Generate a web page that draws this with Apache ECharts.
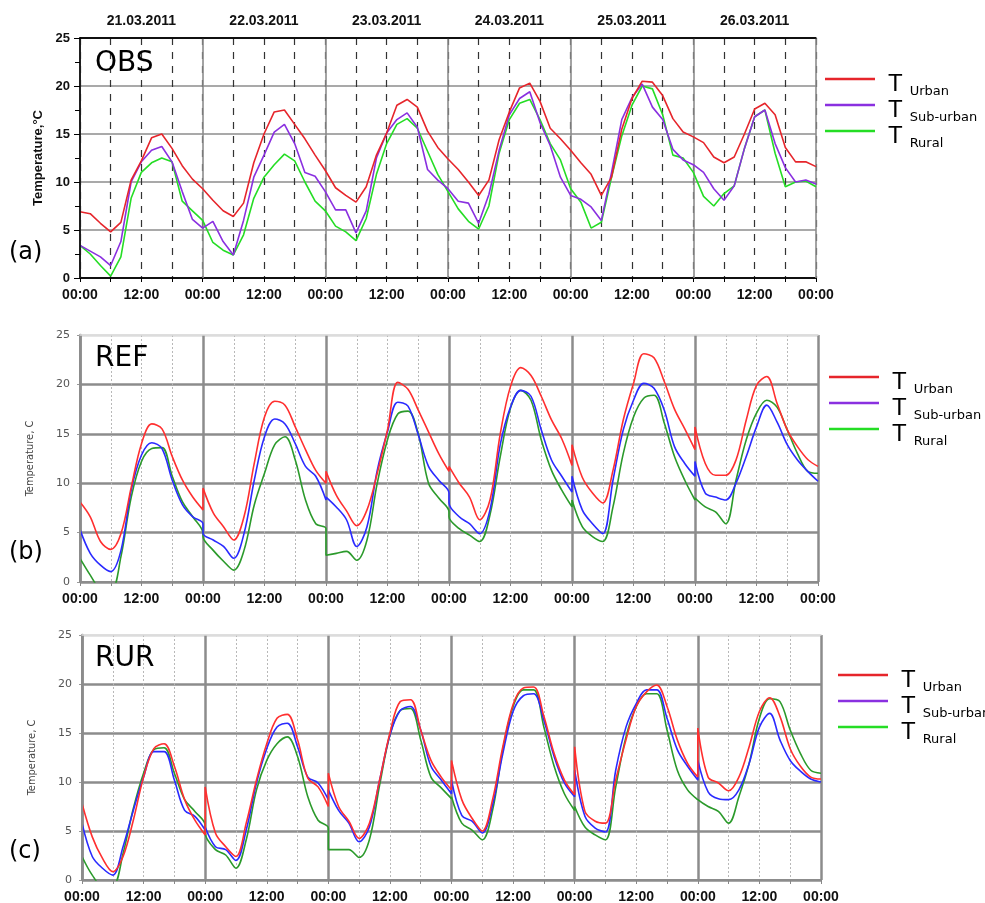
<!DOCTYPE html>
<html>
<head>
<meta charset="utf-8">
<script src="https://cdn.jsdelivr.net/npm/echarts@6/dist/echarts.min.js"></script>
<style>
html,body{margin:0;padding:0;background:#fff}
#chart{width:985px;height:903px}
</style>
</head>
<body>
<div id="chart"></div>
<script>
// ---- labels ----
const dayDates = ['21.03.2011', '22.03.2011', '23.03.2011', '24.03.2011', '25.03.2011', '26.03.2011'];
const clockLabels = { 0: '00:00', 12: '12:00' };
const seriesNames = ['Urban', 'Sub-urban', 'Rural'];
const panelNames = ['OBS', 'REF', 'RUR'];
const panelTags = ['(a)', '(b)', '(c)'];
const STEP = 2; // sampling step of every series, hours

// ---- (a) observations, continuous, 2-hourly from 21.03 00:00 to 27.03 00:00 ----
const obsUrban = [
  6.9, 6.7, 5.7, 4.8, 5.8, 10.2, 12.2, 14.6, 15.0, 13.5, 11.7, 10.3, 9.3,
  8.1, 7.0, 6.4, 7.8, 12.0, 15.0, 17.3, 17.5, 16.0, 14.5, 12.8, 11.2,
  9.4, 8.6, 7.9, 9.5, 12.8, 15.1, 18.0, 18.6, 17.8, 15.3, 13.6, 12.4,
  11.3, 10.0, 8.6, 10.2, 14.4, 17.3, 19.8, 20.3, 18.4, 15.6, 14.5, 13.3,
  12.0, 10.8, 8.6, 10.5, 15.5, 18.7, 20.5, 20.4, 19.0, 16.6, 15.2, 14.7,
  14.1, 12.6, 12.0, 12.6, 15.0, 17.6, 18.2, 17.0, 13.6, 12.1, 12.1, 11.6
];
const obsSuburban = [
  3.4, 2.8, 2.2, 1.3, 3.8, 10.0, 12.1, 13.3, 13.7, 12.1, 9.0, 6.1, 5.2,
  5.9, 3.8, 2.4, 6.0, 10.5, 12.8, 15.2, 16.0, 14.0, 11.0, 10.6, 9.0,
  7.1, 7.1, 4.7, 7.0, 12.5, 15.1, 16.5, 17.2, 15.7, 11.3, 10.2, 9.3,
  8.0, 7.8, 5.7, 8.7, 13.3, 17.0, 18.7, 19.4, 16.2, 13.8, 10.5, 8.6,
  8.2, 7.4, 6.0, 11.0, 16.5, 18.8, 20.2, 17.8, 16.5, 13.4, 12.3, 11.8,
  11.0, 9.3, 8.1, 9.6, 13.5, 16.8, 17.5, 14.0, 11.5, 10.0, 10.2, 9.8
];
const obsRural = [
  3.4, 2.5, 1.3, 0.2, 2.2, 8.3, 11.0, 12.0, 12.5, 12.1, 8.0, 7.0, 6.0,
  3.7, 2.9, 2.4, 4.5, 8.3, 10.5, 11.8, 12.9, 12.2, 10.0, 8.0, 7.0,
  5.4, 4.8, 3.9, 6.2, 10.8, 14.0, 16.0, 16.6, 15.6, 13.2, 10.8, 9.0,
  7.2, 5.9, 5.1, 7.5, 13.0, 16.5, 18.2, 18.6, 16.5, 14.0, 12.3, 9.3,
  7.9, 5.2, 5.8, 10.5, 14.8, 18.0, 20.0, 19.7, 17.0, 12.8, 12.5, 11.0,
  8.5, 7.5, 8.8, 9.6, 13.5, 16.8, 17.5, 13.0, 9.5, 10.0, 10.1, 9.5
];

// ---- (b) REF run, one 24 h forecast per day, 2-hourly 00:00..24:00 ----
const refUrban = [
  [8.1, 6.6, 4.1, 3.3, 4.9, 9.6, 14.0, 16.0, 15.5, 12.7, 10.3, 8.6, 7.3],
  [9.5, 7.0, 5.6, 4.25, 6.6, 12.0, 16.7, 18.3, 17.9, 15.7, 13.4, 11.3, 10.0],
  [11.2, 8.8, 7.2, 5.7, 7.3, 11.0, 15.4, 20.2, 19.5, 17.4, 15.2, 13.0, 11.2],
  [11.7, 10.0, 8.6, 6.3, 8.3, 15.0, 19.8, 21.7, 20.9, 18.8, 16.4, 14.5, 11.8],
  [13.9, 10.6, 9.0, 8.0, 11.3, 16.4, 20.1, 23.1, 22.7, 20.3, 17.5, 15.5, 13.4],
  [15.7, 12.0, 10.8, 10.8, 12.35, 16.4, 19.9, 20.8, 18.1, 15.4, 13.7, 12.4, 11.7]
];
const refSuburban = [
  [5.3, 2.9, 1.7, 1.05, 3.2, 9.3, 12.85, 14.1, 13.5, 10.3, 7.8, 6.6, 5.9],
  [4.9, 4.25, 3.6, 2.4, 4.9, 10.3, 14.7, 16.5, 16.0, 14.0, 11.7, 10.7, 8.3],
  [8.6, 7.6, 6.3, 3.6, 5.6, 11.3, 15.2, 18.2, 17.8, 14.9, 11.7, 10.3, 9.0],
  [8.0, 6.6, 5.9, 4.9, 7.3, 13.9, 17.7, 19.4, 18.8, 15.4, 12.35, 10.7, 9.1],
  [10.7, 7.3, 5.9, 4.9, 10.3, 15.4, 18.4, 20.1, 19.6, 17.4, 13.7, 12.0, 10.7],
  [12.2, 9.0, 8.6, 8.3, 10.0, 12.7, 15.7, 17.9, 16.2, 13.9, 12.35, 11.2, 10.2]
];
const refRural = [
  [2.4, 0.7, -0.8, -1.0, 2.6, 8.6, 12.2, 13.5, 13.6, 10.7, 8.1, 6.6, 4.9],
  [4.6, 3.2, 2.1, 1.2, 3.2, 7.8, 11.0, 13.9, 14.7, 12.35, 8.3, 5.9, 5.4],
  [2.7, 2.9, 3.1, 2.2, 4.25, 10.0, 14.4, 17.0, 17.3, 15.0, 10.0, 8.5, 7.1],
  [6.6, 5.4, 4.75, 4.1, 6.8, 12.7, 17.6, 19.4, 18.4, 14.4, 11.3, 9.3, 7.6],
  [8.3, 5.6, 4.6, 4.1, 7.6, 13.0, 16.7, 18.6, 18.9, 16.1, 12.7, 10.3, 8.3],
  [8.5, 7.6, 7.1, 5.9, 10.3, 14.4, 17.1, 18.4, 17.7, 15.4, 13.0, 11.2, 11.0]
];

// ---- (c) RUR run, one 24 h forecast per day, 2-hourly 00:00..24:00 ----
const rurUrban = [
  [7.8, 4.4, 2.2, 0.85, 2.4, 6.1, 10.5, 13.4, 13.9, 11.6, 8.2, 6.1, 4.6],
  [9.5, 4.8, 3.4, 2.4, 5.8, 10.2, 13.9, 16.5, 16.9, 14.3, 10.4, 9.5, 7.5],
  [10.9, 7.5, 6.0, 4.25, 5.8, 10.2, 15.0, 18.2, 18.4, 15.3, 12.2, 10.5, 9.2],
  [12.2, 8.2, 6.3, 5.0, 8.2, 13.6, 17.9, 19.6, 19.7, 16.7, 12.9, 10.2, 8.7],
  [13.6, 7.0, 6.0, 5.8, 10.2, 14.3, 17.7, 19.2, 19.9, 17.7, 14.3, 11.9, 10.5],
  [15.5, 10.5, 9.9, 9.1, 10.5, 13.6, 17.2, 18.6, 16.7, 13.4, 11.6, 10.5, 10.3]
];
const rurSuburban = [
  [5.8, 2.4, 1.2, 0.5, 3.4, 7.1, 10.5, 13.1, 13.1, 10.2, 7.1, 6.5, 5.1],
  [5.4, 3.4, 3.1, 2.0, 5.1, 9.9, 13.4, 15.6, 16.0, 13.6, 10.5, 9.9, 8.2],
  [9.2, 7.1, 5.8, 3.9, 5.4, 10.2, 14.8, 17.3, 17.7, 15.3, 11.6, 10.2, 8.8],
  [10.2, 6.6, 6.0, 4.8, 7.65, 12.9, 17.2, 18.8, 19.0, 16.3, 12.6, 9.9, 8.5],
  [11.2, 6.5, 5.3, 4.9, 11.2, 15.6, 18.0, 19.4, 19.4, 16.5, 13.3, 11.6, 10.2],
  [12.2, 9.0, 8.3, 8.2, 9.2, 11.9, 15.6, 17.0, 14.3, 12.2, 11.1, 10.3, 10.0]
];
const rurRural = [
  [2.4, 0.5, -0.6, -0.6, 2.7, 7.3, 10.9, 13.3, 13.5, 10.9, 8.2, 7.0, 5.6],
  [4.8, 3.1, 2.55, 1.2, 4.1, 9.2, 12.2, 13.9, 14.6, 12.6, 8.5, 6.1, 5.3],
  [3.1, 3.1, 3.1, 2.3, 4.1, 9.7, 14.8, 17.3, 17.5, 14.3, 10.5, 9.4, 8.3],
  [8.5, 5.8, 5.1, 4.1, 7.1, 13.3, 17.7, 19.4, 19.4, 15.6, 11.6, 8.8, 7.1],
  [7.5, 5.4, 4.6, 4.1, 9.5, 14.6, 17.7, 19.0, 19.0, 15.3, 11.2, 9.2, 8.2],
  [8.2, 7.5, 7.0, 5.8, 8.5, 11.9, 16.5, 18.5, 18.2, 15.3, 12.9, 11.2, 10.9]
];

// ---- helpers turning the sampled arrays into [hour, value] pairs ----
function continuous(vals) {
  return vals.map((v, i) => [i * STEP, v]);
}
function dailyRuns(days) {
  const pts = [];
  days.forEach((day, d) => day.forEach((v, i) => pts.push([d * 24 + i * STEP, v])));
  return pts;
}

const obsColors = ['#e6252b', '#8a30e0', '#25dd25'];
const runColors = ['#ff2f2f', '#2a2aff', '#2b9a2b'];

const panels = [
  { data: [obsUrban, obsSuburban, obsRural].map(continuous), colors: obsColors },
  { data: [refUrban, refSuburban, refRural].map(dailyRuns), colors: runColors },
  { data: [rurUrban, rurSuburban, rurRural].map(dailyRuns), colors: runColors }
];

const grids = [
  { left: 80, top: 38, width: 736, height: 240 },
  { left: 80, top: 335, width: 738, height: 247 },
  { left: 82, top: 635, width: 739, height: 245 }
];

const xAxes = [];
const yAxes = [];
grids.forEach((g, p) => {
  const obs = p === 0;
  // bottom axis: 6-hour grid, labels every 12 h
  xAxes.push({
    gridIndex: p, type: 'value', position: 'bottom', min: 0, max: 144, interval: 6, z: 0,
    axisLine: { show: true, lineStyle: { color: obs ? '#000' : '#8c8c8c', width: obs ? 1.5 : 2 } },
    axisTick: { show: true, length: 4, lineStyle: { color: obs ? '#000' : '#888' } },
    axisLabel: {
      formatter: v => (v % 12 === 0 ? clockLabels[v % 24] : ''),
      fontFamily: 'Liberation Sans', fontWeight: 'bold', fontSize: 14, color: '#111', margin: 10
    },
    splitLine: {
      show: true,
      lineStyle: obs ? { color: '#333', width: 1.2, type: [7, 7] } : { color: '#b8b8b8', width: 1, type: [2, 2] }
    }
  });
  // day boundaries
  xAxes.push({
    gridIndex: p, type: 'value', position: 'bottom', min: 0, max: 144, interval: 24, z: 1,
    axisLine: { show: false }, axisTick: { show: false }, axisLabel: { show: false },
    splitLine: { show: true, lineStyle: { color: '#8c8c8c', width: obs ? 1.6 : 2.5 } }
  });
  // top frame (dates on the observation panel)
  xAxes.push({
    gridIndex: p, type: 'value', position: 'top', min: 0, max: 144, interval: 12, z: 3,
    axisLine: { show: true, lineStyle: { color: obs ? '#000' : '#dcdcdc', width: 1.5 } },
    axisTick: { show: false },
    axisLabel: {
      show: obs,
      formatter: v => (v % 24 === 12 ? dayDates[(v - 12) / 24] : ''),
      fontFamily: 'Liberation Sans', fontWeight: 'bold', fontSize: 14, color: '#111', margin: 10
    },
    splitLine: { show: false }
  });

  yAxes.push({
    gridIndex: p, type: 'value', position: 'left', min: 0, max: 25, interval: 5, z: 0,
    name: obs ? 'Temperature,°C' : 'Temperature, C',
    nameLocation: 'middle', nameGap: obs ? 35 : 44,
    nameTextStyle: obs
      ? { fontFamily: 'Liberation Sans', fontWeight: 'bold', fontSize: 13, color: '#111' }
      : { fontFamily: 'DejaVu Sans Condensed', fontSize: 11, color: '#444' },
    axisLine: { show: true, lineStyle: { color: obs ? '#000' : '#8c8c8c', width: obs ? 1.5 : 2.5 } },
    axisTick: { show: true, length: obs ? 6 : 3, lineStyle: { color: obs ? '#000' : '#999' } },
    minorTick: { show: obs, splitNumber: 2, length: 3, lineStyle: { color: '#000' } },
    axisLabel: obs
      ? { fontFamily: 'Liberation Sans', fontWeight: 'bold', fontSize: 13, color: '#111', margin: 10 }
      : { fontFamily: 'DejaVu Sans', fontSize: 11, color: '#555', margin: 10 },
    splitLine: {
      show: true,
      lineStyle: {
        color: obs ? ['#000', '#8c8c8c', '#8c8c8c', '#8c8c8c', '#8c8c8c', '#000']
                   : ['#8c8c8c', '#8c8c8c', '#8c8c8c', '#8c8c8c', '#8c8c8c', '#dcdcdc'],
        width: obs ? 1.6 : 2.5
      }
    }
  });
  yAxes.push({
    gridIndex: p, type: 'value', position: 'right', min: 0, max: 25, interval: obs ? 2.5 : 5, z: 3,
    axisLine: { show: true, lineStyle: { color: obs ? '#000' : '#8c8c8c', width: obs ? 1.5 : 2 } },
    axisTick: { show: obs, inside: true, length: 5, lineStyle: { color: '#000' } },
    axisLabel: { show: false },
    splitLine: { show: false }
  });
});

// panel (a) series come first so every legend takes their colours
const series = [];
panels.forEach((pan, p) => {
  seriesNames.forEach((name, k) => {
    series.push({
      type: 'line', name: name,
      xAxisIndex: p * 3, yAxisIndex: p * 2,
      data: pan.data[k],
      color: pan.colors[k],
      showSymbol: false, symbol: 'none',
      smooth: p === 0 ? false : 0.35,
      lineStyle: { width: 1.6, color: pan.colors[k] },
      clip: true,
      z: 2 + (2 - k) * 0.1 // urban drawn on top
    });
  });
});

// each legend row is a tall text box centred on its line swatch
const legendPos = [
  { left: 825, top: 53 },
  { left: 829, top: 351 },
  { left: 838, top: 649 }
];
const legends = legendPos.map(pos => ({
  data: seriesNames, orient: 'vertical', left: pos.left, top: pos.top,
  padding: 0, itemGap: -19, itemWidth: 50, itemHeight: 2.5, icon: 'rect',
  selectedMode: false,
  formatter: n => '{t|T}{s|' + n + '}',
  textStyle: {
    rich: {
      t: { fontFamily: 'Liberation Sans', fontSize: 24, color: '#000', lineHeight: 52, verticalAlign: 'top', padding: [19, 3, 0, 8] },
      s: { fontFamily: 'DejaVu Sans', fontSize: 13, color: '#000', lineHeight: 52, verticalAlign: 'top', padding: [32, 0, 0, 4] }
    }
  }
}));

const titles = [];
const nameTops = [50, 345, 645];
const tagTops = [241, 541, 840];
panelNames.forEach((n, p) => {
  titles.push({ text: n, left: 95, top: nameTops[p], padding: 0,
    textStyle: { fontFamily: 'DejaVu Sans', fontSize: 28, fontWeight: 'normal', color: '#000' } });
  titles.push({ text: panelTags[p], left: 9, top: tagTops[p], padding: 0,
    textStyle: { fontFamily: 'DejaVu Sans', fontSize: 24, fontWeight: 'normal', color: '#000' } });
});

const chart = echarts.init(document.getElementById('chart'), null, { renderer: 'canvas' });
chart.setOption({
  backgroundColor: '#fff',
  animation: false,
  title: titles,
  legend: legends,
  grid: grids.map(g => Object.assign({ containLabel: false, outerBoundsMode: 'none' }, g)),
  xAxis: xAxes,
  yAxis: yAxes,
  series: series
});
</script>
</body>
</html>
